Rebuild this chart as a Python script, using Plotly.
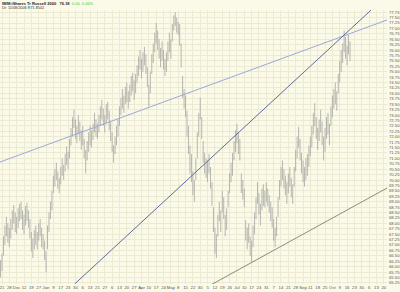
import plotly.graph_objects as go

# Daily bar highs / lows, index 0 = 18 Nov 2005
highs = [
    66.3, 66.6, 67.4, 67.9, 68.3, 68.0, 67.8, 68.2, 68.6, 68.85,
    68.5, 68.3, 68.7, 68.9, 69.0, 68.6, 68.4, 68.8, 68.95, 68.6,
    68.2, 67.6, 67.3, 67.7, 67.9, 67.6, 68.0, 68.2, 67.8, 67.5,
    67.2, 66.7, 67.9, 68.5, 69.0, 69.5, 70.2, 70.5, 70.8, 70.4,
    70.1, 70.6, 71.0, 70.7, 71.2, 71.55, 71.3, 71.9, 72.4, 72.9,
    73.25, 72.8, 72.5, 73.0, 72.7, 72.3, 72.5, 71.9, 71.4, 71.8,
    72.2, 72.5, 72.3, 72.6, 73.1, 72.8, 72.6, 73.0, 73.4, 73.7,
    73.3, 73.0, 73.5, 73.6, 73.2, 72.7, 72.2, 71.6, 72.0, 72.5,
    72.8, 73.4, 73.8, 74.2, 73.9, 74.3, 74.5, 74.1, 74.4, 74.8,
    74.95, 74.6, 74.9, 75.3, 75.7, 76.0, 75.6, 75.9, 76.15, 75.8,
    75.2, 74.4, 75.0, 75.8, 76.3, 76.8, 77.25, 76.9, 76.5, 76.1,
    76.4, 76.0, 75.6, 75.9, 76.4, 76.8, 76.5, 77.2, 77.6, 77.75,
    77.5, 77.3, 77.2, 76.3, 74.8, 74.2, 73.9, 73.2, 72.5, 71.6,
    71.2, 70.4, 70.0, 71.0, 72.2, 73.1, 73.8, 72.9, 71.8, 71.25,
    71.0, 70.9, 71.2, 70.6, 69.9, 68.75, 67.8, 67.5, 68.4, 69.0,
    68.6, 69.5, 69.2, 68.4, 68.7, 69.5, 70.3, 70.8, 71.25, 71.8,
    72.3, 72.6, 72.2, 71.9, 70.3, 70.0, 69.6, 68.15, 67.8, 68.0,
    67.4, 67.2, 67.9, 68.5, 69.2, 69.9, 69.4, 68.9, 69.6, 69.8,
    69.5, 69.9, 69.6, 69.3, 69.0, 68.75, 68.2, 67.8, 68.3, 69.2,
    70.0, 70.6, 70.9, 70.5, 70.2, 69.9, 70.3, 70.6, 70.1, 69.8,
    70.6, 71.4, 72.0, 72.45, 71.9, 71.25, 70.9, 70.6, 71.0, 71.2,
    71.6, 72.0, 72.5, 73.1, 73.55, 72.9, 72.4, 72.8, 73.25, 72.7,
    72.0, 72.4, 72.9, 73.1, 72.6, 73.4, 73.9, 74.2, 74.5, 74.1,
    74.9, 75.5, 76.0, 76.3, 76.9, 76.6, 76.2, 76.7, 76.4,
]
lows = [
    65.5, 65.8, 66.5, 67.0, 67.4, 67.1, 66.9, 67.3, 67.7, 68.0,
    67.6, 67.5, 67.8, 68.1, 68.2, 67.7, 67.5, 67.9, 68.1, 67.8,
    67.3, 66.7, 66.4, 66.8, 67.0, 66.8, 67.2, 67.4, 66.9, 66.8,
    66.3, 65.75, 66.8, 67.6, 68.2, 68.6, 69.4, 69.7, 70.0, 69.6,
    69.4, 69.8, 70.2, 70.0, 70.4, 70.7, 70.5, 71.0, 71.6, 72.0,
    72.4, 71.9, 71.7, 72.1, 71.8, 71.4, 71.6, 71.0, 70.3, 70.9,
    71.3, 71.6, 71.5, 71.85, 72.2, 72.0, 71.9, 72.2, 72.5, 72.8,
    72.5, 72.2, 72.6, 72.8, 72.3, 71.8, 71.3, 70.8, 71.2, 71.6,
    72.0, 72.5, 73.0, 73.3, 73.1, 73.5, 73.6, 73.3, 73.6, 73.9,
    74.1, 73.7, 74.0, 74.5, 74.8, 75.1, 74.7, 75.0, 75.3, 74.9,
    74.3, 73.4, 74.0, 74.9, 75.4, 75.9, 76.3, 76.0, 75.6, 75.2,
    75.5, 75.1, 74.8, 75.0, 75.5, 75.9, 75.6, 76.4, 76.9, 77.1,
    76.8, 76.7, 76.2, 75.2, 73.8, 73.3, 72.9, 72.0, 71.2, 70.3,
    69.9, 69.3, 69.0, 70.0, 71.0, 72.0, 72.8, 71.9, 70.8, 70.3,
    70.1, 69.9, 70.3, 69.6, 68.8, 67.6, 66.6, 66.4, 67.4, 68.1,
    67.6, 68.5, 68.2, 67.4, 67.7, 68.75, 69.4, 69.9, 70.2, 70.9,
    71.3, 71.7, 71.2, 70.9, 69.4, 69.1, 68.75, 67.2, 66.8, 67.1,
    66.5, 66.2, 66.9, 67.5, 68.2, 68.9, 68.4, 67.9, 68.6, 68.8,
    68.75, 69.0, 68.8, 68.5, 68.1, 67.8, 67.2, 66.9, 67.4, 68.3,
    69.1, 69.7, 70.0, 69.6, 69.3, 68.9, 69.4, 69.7, 69.2, 68.9,
    69.7, 70.4, 71.0, 71.5, 70.9, 70.3, 69.9, 69.7, 70.0, 70.2,
    70.6, 71.1, 71.5, 72.1, 72.5, 71.9, 71.4, 71.8, 72.2, 71.6,
    70.9, 71.3, 71.9, 72.1, 71.6, 72.5, 72.9, 73.3, 73.5, 73.2,
    74.0, 74.5, 75.0, 75.4, 75.9, 75.6, 75.3, 75.8, 75.5,
]

# Weekly x-axis labels (Mondays, starting 21 Nov 2005)
week_labels = ["21", "28", "Dec", "12", "19", "27", "Jan", "9", "17", "23", "30",
               "6", "13", "21", "27", "6", "13", "20", "27", "Apr", "10", "17", "24",
               "May", "8", "15", "22", "30", "5", "12", "19", "26", "Jul", "10", "17",
               "24", "31", "7", "14", "21", "28", "Sep", "11", "18", "25", "Oct", "9",
               "16", "23", "30", "6", "13", "20"]
week_index = [1 + 5 * k for k in range(len(week_labels))]

# Price axis labels
price_ticks = [65.25 + 0.25 * k for k in range(51)]
price_labels = [f"{v:.2f}" for v in price_ticks]

# Trend lines (bar index, price)
shallow_x = [-0.36, 263.2]
shallow_y = [70.83, 77.39]
steep_x = [50.5, 252.4]
steep_y = [65.2, 77.85]
support_x = [143.3, 263.2]
support_y = [65.16, 69.63]

bar_x, bar_y = [], []
for i, (h, l) in enumerate(zip(highs, lows)):
    bar_x += [i, i, None]
    bar_y += [l, h, None]

fig = go.Figure()
fig.add_trace(go.Scatter(x=bar_x, y=bar_y, mode="lines",
                         line=dict(color="#9a9a9a", width=0.7), hoverinfo="skip"))
fig.add_trace(go.Scatter(x=shallow_x, y=shallow_y, mode="lines",
                         line=dict(color="#9aa8d8", width=1)))
fig.add_trace(go.Scatter(x=steep_x, y=steep_y, mode="lines",
                         line=dict(color="#5e6b9c", width=1)))
fig.add_trace(go.Scatter(x=support_x, y=support_y, mode="lines",
                         line=dict(color="#8e8a7c", width=1)))

bg = "#fbfae8"
grid = "#ecead3"
fig.update_layout(
    width=400, height=292,
    margin=dict(l=0, r=11, t=10, b=8),
    paper_bgcolor=bg, plot_bgcolor=bg,
    showlegend=False,
    font=dict(family="Liberation Sans", size=4.5, color="#555555"),
)
fig.update_xaxes(range=[-0.36, 263.2], tickmode="array", tickvals=week_index,
                 ticktext=week_labels, tickangle=0, showgrid=True, gridcolor=grid,
                 gridwidth=1, zeroline=False, showline=False, ticks="",
                 ticklabeloverflow="allow", tickfont=dict(size=4.3))
fig.update_yaxes(range=[65.2, 77.85], side="right", tickmode="array",
                 tickvals=price_ticks, ticktext=price_labels, showgrid=True,
                 gridcolor=grid, gridwidth=1, zeroline=False, showline=False,
                 ticks="", tickfont=dict(size=4.2), ticklabelstandoff=1)

fig.add_annotation(x=0, y=1.024, xref="paper", yref="paper", xanchor="left",
                   yanchor="middle", showarrow=False,
                   text="<b>IWM:iShares Tr Russell 2000   76.18</b>  "
                        "<span style='color:#33cc33'>0.00  0.00%</span>",
                   font=dict(size=4, color="#222222"))
fig.add_annotation(x=0, y=1.009, xref="paper", yref="paper", xanchor="left",
                   yanchor="middle", showarrow=False,
                   text="Dt: 11/08/2006 R71.8502",
                   font=dict(size=3.8, color="#333333"))

fig.write_html("out.html")
